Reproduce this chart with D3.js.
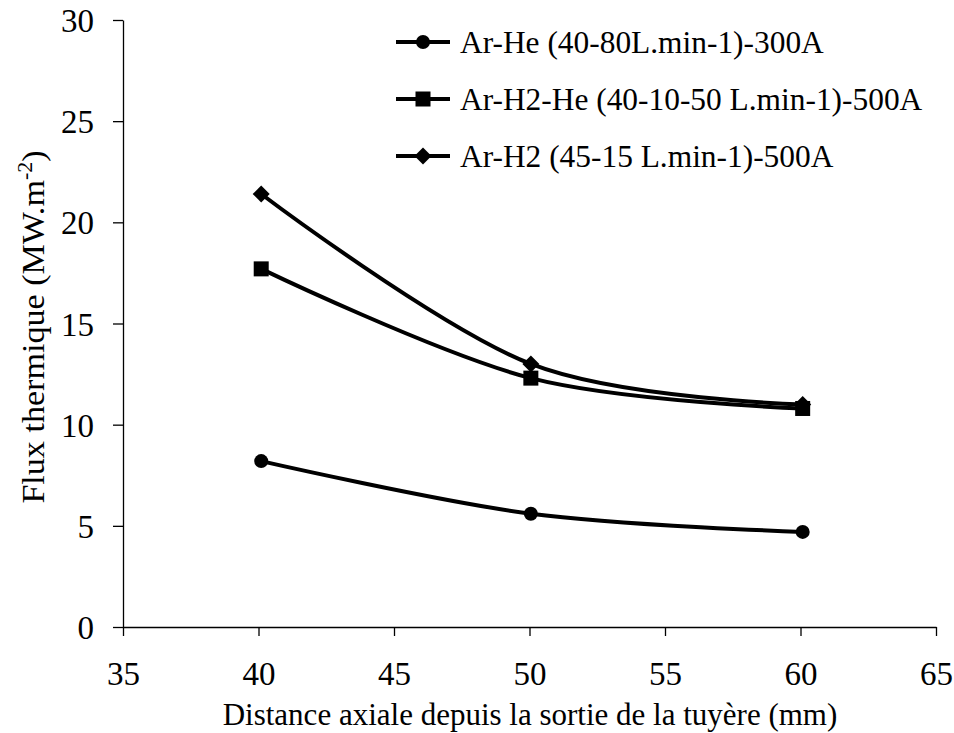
<!DOCTYPE html>
<html>
<head>
<meta charset="utf-8">
<script src="https://cdn.jsdelivr.net/npm/d3@7"></script>
<style>
  html, body { margin: 0; padding: 0; background: #fff; }
  svg text { font-family: "Liberation Serif", "Times New Roman", Times, "DejaVu Serif", serif !important; fill: #000; }
</style>
</head>
<body>
<div id="chart"></div>
<script>
// Axial distance from the nozzle exit (mm) and measured heat flux (MW.m-2)
const seriesNames = [
  "Ar-He (40-80L.min-1)-300A",
  "Ar-H2-He (40-10-50 L.min-1)-500A",
  "Ar-H2 (45-15 L.min-1)-500A"
];
const distances = [40.1, 50.05, 60.08];
const fluxArHe = [8.2, 5.6, 4.7];
const fluxArH2He = [17.7, 12.3, 10.8];
const fluxArH2 = [21.4, 13.0, 11.0];
const markerShapes = ["circle", "square", "diamond"];

const xTicks = [35, 40, 45, 50, 55, 60, 65];
const yTicks = [0, 5, 10, 15, 20, 25, 30];

const xTitle = "Distance axiale depuis la sortie de la tuyère (mm)";

const W = 954, H = 733;
const margin = { left: 123, right: 18, top: 20, bottom: 106 };
const serif = "'Liberation Serif', 'Times New Roman', Times, 'DejaVu Serif', serif";

const svg = d3.select("#chart").append("svg")
  .attr("width", W).attr("height", H)
  .style("font-family", serif);

const x = d3.scaleLinear().domain([35, 65]).range([margin.left, W - margin.right]);
const y = d3.scaleLinear().domain([0, 30]).range([H - margin.bottom, margin.top]);

// Axes
const xAxis = svg.append("g")
  .attr("transform", `translate(0,${y(0)})`)
  .call(d3.axisBottom(x).tickValues(xTicks).tickSize(9).tickSizeOuter(0).tickPadding(26));
const yAxis = svg.append("g")
  .attr("transform", `translate(${x(35)},0)`)
  .call(d3.axisLeft(y).tickValues(yTicks).tickSize(10).tickSizeOuter(0).tickPadding(19));

[xAxis, yAxis].forEach(g => {
  g.attr("font-family", serif);
  g.select(".domain").attr("stroke", "#000").attr("stroke-width", 1.3);
  g.selectAll(".tick line").attr("stroke", "#000").attr("stroke-width", 1.3);
  g.selectAll(".tick text")
    .style("font-family", serif)
    .attr("font-size", 33);
});
yAxis.selectAll(".tick text").attr("dy", "0.35em");

// Axis titles
svg.append("text")
  .attr("x", 530)
  .attr("y", 725)
  .attr("text-anchor", "middle")
  .attr("font-size", 31)
  .text(xTitle);

const yTitle = svg.append("text")
  .attr("transform", "translate(44,327) rotate(-90) scale(1.1,1)")
  .attr("text-anchor", "middle")
  .attr("font-size", 31);
yTitle.append("tspan").text("Flux thermique (MW.m");
yTitle.append("tspan").attr("font-size", 20).attr("dy", -12).text("-2");
yTitle.append("tspan").attr("dy", 12).text(")");

// Marker drawing
function drawMarker(g, shape, cx, cy) {
  if (shape === "circle") {
    g.append("circle").attr("cx", cx).attr("cy", cy).attr("r", 7).attr("fill", "#000");
  } else if (shape === "square") {
    g.append("rect").attr("x", cx - 7.5).attr("y", cy - 7.5).attr("width", 15).attr("height", 15).attr("fill", "#000");
  } else {
    const s = 8.5;
    g.append("path")
      .attr("d", `M${cx},${cy - s}L${cx + s},${cy}L${cx},${cy + s}L${cx - s},${cy}Z`)
      .attr("fill", "#000");
  }
}

// Smoothed series lines
const allFlux = [fluxArHe, fluxArH2He, fluxArH2];
const line = d3.line()
  .x(d => x(d[0]))
  .y(d => y(d[1]))
  .curve(d3.curveCardinal.tension(0));

allFlux.forEach((vals, i) => {
  const pts = distances.map((d, j) => [d, vals[j]]);
  const g = svg.append("g");
  g.append("path")
    .attr("d", line(pts))
    .attr("fill", "none")
    .attr("stroke", "#000")
    .attr("stroke-width", 4);
  pts.forEach(p => drawMarker(g, markerShapes[i], x(p[0]), y(p[1])));
});

// Legend
const legendY = [42, 99, 156];
seriesNames.forEach((name, i) => {
  const g = svg.append("g");
  g.append("line")
    .attr("x1", 396).attr("x2", 450)
    .attr("y1", legendY[i]).attr("y2", legendY[i])
    .attr("stroke", "#000").attr("stroke-width", 4);
  drawMarker(g, markerShapes[i], 423, legendY[i]);
  g.append("text")
    .attr("x", 460).attr("y", legendY[i])
    .attr("dy", "0.35em")
    .attr("font-size", 31.4)
    .text(name);
});
</script>
</body>
</html>
